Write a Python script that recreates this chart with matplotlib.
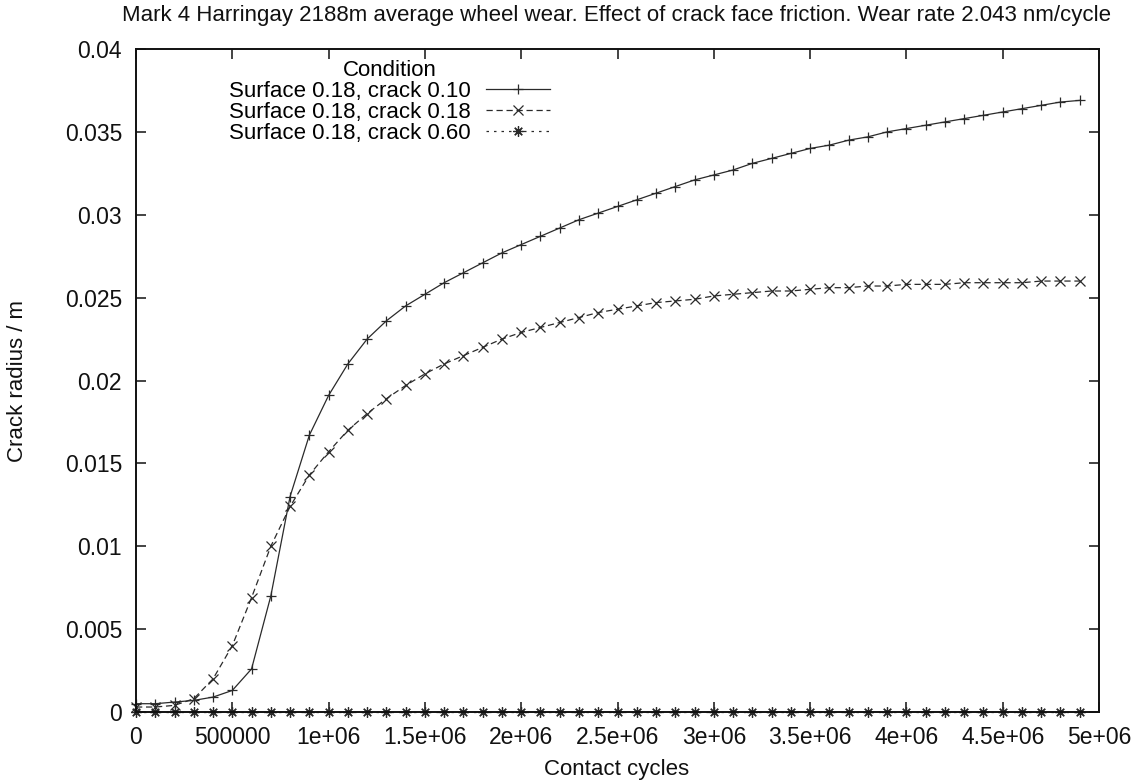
import matplotlib
matplotlib.use("Agg")
import matplotlib.pyplot as plt
from matplotlib.ticker import FixedLocator, FixedFormatter

plt.rcParams['font.family'] = ['Liberation Sans', 'DejaVu Sans']

cycles = [i * 100000 for i in range(50)]

crack_010 = [0.0005, 0.0005, 0.0006, 0.0007, 0.0009, 0.0013, 0.0026, 0.0070, 0.0130, 0.0167,
             0.0191, 0.0210, 0.0225, 0.0236, 0.0245, 0.0252, 0.0259, 0.0265, 0.0271, 0.0277,
             0.0282, 0.0287, 0.0292, 0.0297, 0.0301, 0.0305, 0.0309, 0.0313, 0.0317, 0.0321,
             0.0324, 0.0327, 0.0331, 0.0334, 0.0337, 0.0340, 0.0342, 0.0345, 0.0347, 0.0350,
             0.0352, 0.0354, 0.0356, 0.0358, 0.0360, 0.0362, 0.0364, 0.0366, 0.0368, 0.0369]

crack_018 = [0.0003, 0.0003, 0.0004, 0.0008, 0.0020, 0.0040, 0.0069, 0.0100, 0.0124, 0.0143,
             0.0157, 0.0170, 0.0180, 0.0189, 0.0197, 0.0204, 0.0210, 0.0215, 0.0220, 0.0225,
             0.0229, 0.0232, 0.0235, 0.0238, 0.0241, 0.0243, 0.0245, 0.0247, 0.0248, 0.0249,
             0.0251, 0.0252, 0.0253, 0.0254, 0.0254, 0.0255, 0.0256, 0.0256, 0.0257, 0.0257,
             0.0258, 0.0258, 0.0258, 0.0259, 0.0259, 0.0259, 0.0259, 0.0260, 0.0260, 0.0260]

crack_060 = [0.0] * 50

series_labels = ["Surface 0.18, crack 0.10", "Surface 0.18, crack 0.18", "Surface 0.18, crack 0.60"]

xtick_values = [0, 500000, 1000000, 1500000, 2000000, 2500000, 3000000, 3500000, 4000000, 4500000, 5000000]
xtick_labels = ["0", "500000", "1e+06", "1.5e+06", "2e+06", "2.5e+06", "3e+06", "3.5e+06", "4e+06", "4.5e+06", "5e+06"]
ytick_values = [0, 0.005, 0.01, 0.015, 0.02, 0.025, 0.03, 0.035, 0.04]
ytick_labels = ["0", "0.005", "0.01", "0.015", "0.02", "0.025", "0.03", "0.035", "0.04"]

W, H = 1138, 782
L, R, T, B = 136, 1099, 49, 712
fig = plt.figure(figsize=(W / 100, H / 100), dpi=100)
ax = fig.add_axes([L / W, 1 - B / H, (R - L) / W, (B - T) / H])

FS = 16
TFS = 16.5
col = '#2a2a2a'
ax.plot(cycles, crack_010, color=col, lw=0.9, ls='-', marker='+', ms=7.5, mew=0.9,
        clip_on=False, label=series_labels[0])
ax.plot(cycles, crack_018, color=col, lw=0.9, ls=(0, (5, 3)), marker='x', ms=7, mew=0.9,
        clip_on=False, label=series_labels[1])
ax.plot(cycles, crack_060, color=col, lw=0.9, ls=(0, (2, 4)), marker=(8, 2, 0), ms=7.5, mew=0.9,
        clip_on=False, label=series_labels[2])

ax.set_xlim(0, 5000000)
ax.set_ylim(0, 0.04)
ax.xaxis.set_major_locator(FixedLocator(xtick_values))
ax.xaxis.set_major_formatter(FixedFormatter(xtick_labels))
ax.yaxis.set_major_locator(FixedLocator(ytick_values))
ax.yaxis.set_major_formatter(FixedFormatter(ytick_labels))
ax.tick_params(direction='in', length=7, width=1.1, top=True, right=True,
               labelsize=TFS, colors='#111111')
ax.tick_params(axis='x', pad=10)
ax.tick_params(axis='y', pad=10)
for s in ax.spines.values():
    s.set_linewidth(1.4)
    s.set_color('#111111')

leg = ax.legend(loc='upper left', bbox_to_anchor=((229 - L) / (R - L), 1 - (60 - T) / (B - T)),
                frameon=False, markerfirst=False, fontsize=FS, title='Condition',
                title_fontsize=FS, handlelength=2.9, handletextpad=0.68, labelspacing=0.0,
                borderpad=0, borderaxespad=0)

fig.text(617 / W, 1 - 16 / H,
         "Mark 4 Harringay 2188m average wheel wear. Effect of crack face friction. Wear rate 2.043 nm/cycle",
         ha='center', va='center', fontsize=FS, color='#111111')
fig.text(617 / W, 1 - 770 / H, "Contact cycles", ha='center', va='center', fontsize=FS, color='#111111')
fig.text(18 / W, 1 - 381 / H, "Crack radius / m", ha='center', va='center', rotation=90,
         fontsize=FS, color='#111111')

fig.savefig("out.png", dpi=100)
